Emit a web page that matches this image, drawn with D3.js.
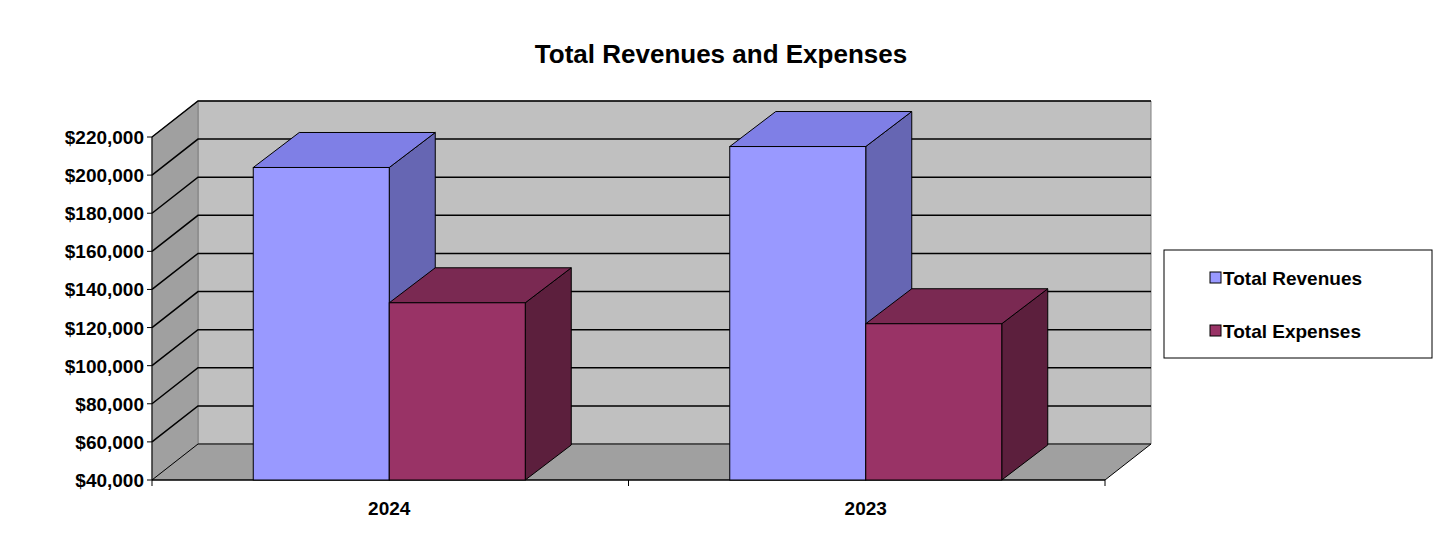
<!DOCTYPE html><html><head><meta charset="utf-8">
<script src="https://cdn.jsdelivr.net/npm/d3@7"></script>
<style>body{margin:0;background:#fff}text{font-family:Arial,"Liberation Sans",sans-serif}</style></head><body>
<svg id="c" width="1450" height="536"></svg>
<script>
const categories=["2024","2023"];
const seriesNames=["Total Revenues","Total Expenses"];
const revenues=[204000,215000];
const expenses=[133000,122000];
const ticks=[40000,60000,80000,100000,120000,140000,160000,180000,200000,220000];
const colors={front:["#9999ff","#993366"],top:["#7f7fe6","#7a2952"],side:["#6666b3","#5c1f3d"]};
const svg=d3.select("#c");
const X0=152,X1=1105,dx=46,dy=-36;
const y=d3.scaleLinear().domain([40000,220000]).range([480,137]);
const x=d3.scaleBand().domain(categories).range([X0,X1]);
const poly=pts=>pts.map(p=>p.join(",")).join(" ");
// walls
svg.append("polygon").attr("points",poly([[X0+dx,y(220000)+dy],[X1+dx,y(220000)+dy],[X1+dx,y(40000)+dy],[X0+dx,y(40000)+dy]])).attr("fill","#c0c0c0").attr("stroke","#808080");
svg.append("polygon").attr("points",poly([[X0,y(220000)],[X0+dx,y(220000)+dy],[X0+dx,y(40000)+dy],[X0,y(40000)]])).attr("fill","#a0a0a0").attr("stroke","#808080");
svg.append("polygon").attr("points",poly([[X0,y(40000)],[X0+dx,y(40000)+dy],[X1+dx,y(40000)+dy],[X1,y(40000)]])).attr("fill","#a0a0a0").attr("stroke","#000");
ticks.forEach(t=>{
  if(t>40000) svg.append("polyline").attr("points",poly([[X0,y(t)],[X0+dx,y(t)+dy],[X1+dx,y(t)+dy]])).attr("fill","none").attr("stroke","#000").attr("stroke-width",1.5);
  svg.append("line").attr("x1",X0-5).attr("x2",X0).attr("y1",y(t)).attr("y2",y(t)).attr("stroke","#000");
  svg.append("text").attr("x",X0-8).attr("y",y(t)+7).attr("text-anchor","end").attr("font-size",19).attr("font-weight","bold").text("$"+d3.format(",")(t));
});
svg.append("line").attr("x1",X0).attr("x2",X0).attr("y1",y(220000)).attr("y2",y(40000)).attr("stroke","#000");
svg.append("line").attr("x1",X0).attr("x2",X1).attr("y1",480).attr("y2",480).attr("stroke","#000");
[X0,(X0+X1)/2,X1].forEach(v=>svg.append("line").attr("x1",v).attr("x2",v).attr("y1",480).attr("y2",486).attr("stroke","#000"));
// bars
const bw=136, bdx=46, bdy=-35;
categories.forEach((c,i)=>{
  const cx=x(c)+x.bandwidth()/2-1;
  [revenues[i],expenses[i]].forEach((v,s)=>{
    const l=cx-bw+s*bw, r=l+bw, t=y(v), b=y(40000);
    const g=svg.append("g").attr("stroke","#000").attr("stroke-width",1);
    g.append("polygon").attr("points",poly([[r,t],[r+bdx,t+bdy],[r+bdx,b+bdy],[r,b]])).attr("fill",colors.side[s]);
    g.append("polygon").attr("points",poly([[l,t],[l+bdx,t+bdy],[r+bdx,t+bdy],[r,t]])).attr("fill",colors.top[s]);
    g.append("rect").attr("x",l).attr("y",t).attr("width",bw).attr("height",b-t).attr("fill",colors.front[s]);
  });
  svg.append("text").attr("x",cx).attr("y",515).attr("text-anchor","middle").attr("font-size",19).attr("font-weight","bold").text(c);
});
svg.append("text").attr("x",721).attr("y",63).attr("text-anchor","middle").attr("font-size",26).attr("font-weight","bold").text("Total Revenues and Expenses");
// legend
const lg=svg.append("g");
lg.append("rect").attr("x",1164).attr("y",250).attr("width",268).attr("height",108).attr("fill","#fff").attr("stroke","#000");
seriesNames.forEach((n,i)=>{
  const yy=[278,331][i];
  lg.append("rect").attr("x",1210).attr("y",yy-6).attr("width",11).attr("height",11).attr("fill",colors.front[i]).attr("stroke","#000");
  lg.append("text").attr("x",1223).attr("y",yy+7).attr("font-size",19).attr("font-weight","bold").text(n);
});
</script></body></html>
